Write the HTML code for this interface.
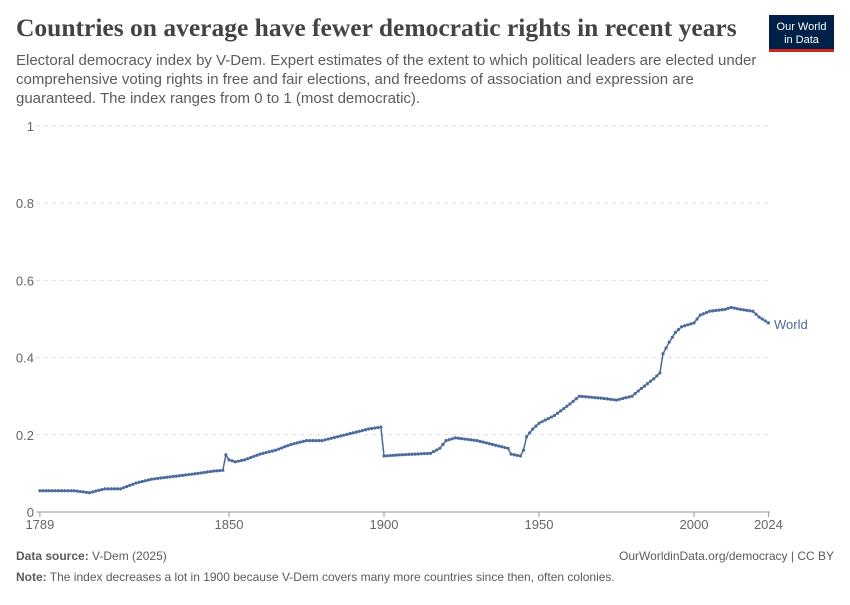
<!DOCTYPE html>
<html><head><meta charset="utf-8"><style>
body{margin:0;background:#fff;width:850px;height:600px;overflow:hidden;font-family:"Liberation Sans",sans-serif;}
</style></head><body>
<svg id="s" width="850" height="600" xmlns="http://www.w3.org/2000/svg">
<text x="16" y="36" font-family="Liberation Serif,serif" font-size="25.5" font-weight="bold" fill="#444">Countries on average have fewer democratic rights in recent years</text>
<rect x="769" y="15" width="65" height="36" fill="#002147"/>
<rect x="769" y="49" width="65" height="3" fill="#ce261e"/>
<text x="801.5" y="30" text-anchor="middle" font-size="11" fill="#fff">Our World</text>
<text x="801.5" y="43" text-anchor="middle" font-size="11" fill="#fff">in Data</text>
<text font-size="15" fill="#5b5b5b"><tspan x="16" y="65">Electoral democracy index by V-Dem. Expert estimates of the extent to which political leaders are elected under</tspan><tspan x="16" y="84">comprehensive voting rights in free and fair elections, and freedoms of association and expression are</tspan><tspan x="16" y="103">guaranteed. The index ranges from 0 to 1 (most democratic).</tspan></text>
<g id="grid" stroke="#ddd" stroke-dasharray="4,4"></g>
<g id="yl" font-size="13" fill="#666"></g>
<line x1="36" y1="512" x2="770" y2="512" stroke="#999"/>
<g id="xl" font-size="13" fill="#666" text-anchor="middle"></g>
<polyline id="ln" fill="none" stroke="#4c6a9c" stroke-width="1.5"/>
<g id="dots" fill="#4c6a9c"></g>
<text x="774" y="329" font-size="13" fill="#4c6a9c">World</text>
<text x="16" y="560" font-size="12" fill="#5b5b5b"><tspan font-weight="bold">Data source:</tspan> V-Dem (2025)</text>
<text x="834" y="560" font-size="12" fill="#5b5b5b" text-anchor="end">OurWorldinData.org/democracy | CC BY</text>
<text x="16" y="581" font-size="12" fill="#5b5b5b"><tspan font-weight="bold">Note:</tspan> The index decreases a lot in 1900 because V-Dem covers many more countries since then, often colonies.</text>
</svg>
<script>
var NS="http://www.w3.org/2000/svg";
function X(y){return 39.9+(y-1789)*3.1}
function Y(v){return 512-v*386}
var g=document.getElementById('grid'),yl=document.getElementById('yl'),xl=document.getElementById('xl');
[0,0.2,0.4,0.6,0.8,1].forEach(function(v){
 if(v>0){var l=document.createElementNS(NS,'line');l.setAttribute('x1',36);l.setAttribute('x2',770);l.setAttribute('y1',Y(v));l.setAttribute('y2',Y(v));g.appendChild(l);}
 var t=document.createElementNS(NS,'text');t.setAttribute('x',34);t.setAttribute('y',Y(v)+5);t.setAttribute('text-anchor','end');t.textContent=v==0?'0':v==1?'1':v.toString();yl.appendChild(t);
});
[1789,1850,1900,1950,2000,2024].forEach(function(y){
 var l=document.createElementNS(NS,'line');l.setAttribute('x1',X(y));l.setAttribute('x2',X(y));l.setAttribute('y1',512);l.setAttribute('y2',517);l.setAttribute('stroke','#999');xl.appendChild(l);
 var t=document.createElementNS(NS,'text');t.setAttribute('x',X(y));t.setAttribute('y',529);t.textContent=y;xl.appendChild(t);
});
var K=[[1789,.055],[1800,.055],[1805,.05],[1810,.06],[1815,.06],[1820,.075],[1825,.085],[1830,.09],[1835,.095],[1840,.1],[1845,.106],[1848,.108],[1849,.148],[1850,.135],[1852,.13],[1855,.135],[1860,.15],[1865,.16],[1870,.175],[1875,.185],[1880,.185],[1885,.195],[1890,.205],[1895,.215],[1899,.22],[1900,.145],[1905,.148],[1910,.15],[1915,.152],[1918,.165],[1920,.185],[1923,.192],[1930,.185],[1935,.175],[1940,.165],[1941,.15],[1944,.145],[1945,.16],[1946,.195],[1948,.215],[1950,.23],[1955,.25],[1960,.28],[1963,.3],[1970,.295],[1975,.29],[1980,.3],[1983,.32],[1987,.345],[1989,.36],[1990,.41],[1992,.44],[1994,.465],[1996,.48],[2000,.49],[2002,.51],[2005,.52],[2010,.525],[2012,.53],[2015,.525],[2019,.52],[2021,.505],[2024,.49]];
function val(y){for(var i=0;i<K.length-1;i++){if(y>=K[i][0]&&y<=K[i+1][0]){var f=(y-K[i][0])/(K[i+1][0]-K[i][0]);return K[i][1]+f*(K[i+1][1]-K[i][1]);}}return K[K.length-1][1];}
var pts=[],d=document.getElementById('dots');
for(var y=1789;y<=2024;y++){var x=X(y),yy=Y(val(y));pts.push(x.toFixed(1)+','+yy.toFixed(1));var c=document.createElementNS(NS,'circle');c.setAttribute('cx',x);c.setAttribute('cy',yy);c.setAttribute('r',1.6);d.appendChild(c);}
document.getElementById('ln').setAttribute('points',pts.join(' '));
</script>
</body></html>
